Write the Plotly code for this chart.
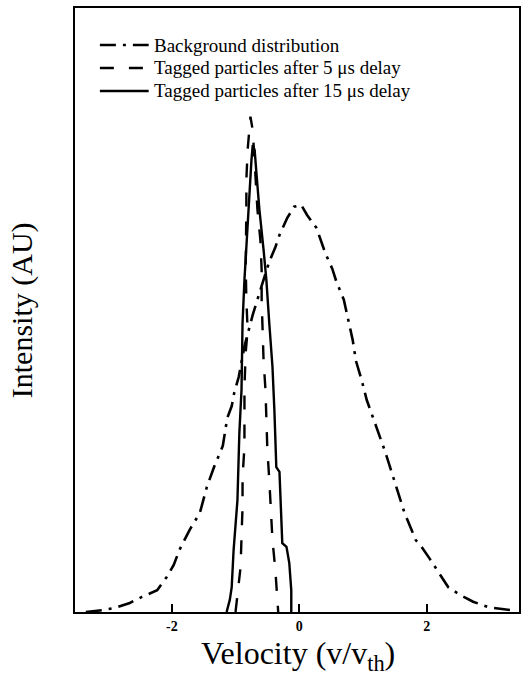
import plotly.graph_objects as go

# Background distribution (dash-dot)
bg_x = [-3.35, -3.09, -2.89, -2.66, -2.47, -2.23, -2.08, -1.97, -1.88, -1.72, -1.56, -1.45,
        -1.33, -1.20, -1.13, -1.06, -1.02, -0.95, -0.86, -0.73, -0.59, -0.47, -0.375,
        -0.31, -0.19, -0.08, 0.03, 0.125, 0.27, 0.34, 0.41, 0.52, 0.58, 0.70, 0.77,
        0.84, 0.89, 0.98, 1.06, 1.20, 1.35, 1.50, 1.65, 1.83, 1.92, 2.05, 2.19, 2.34,
        2.53, 2.73, 2.97, 3.17, 3.40]
bg_y = [0.0, 0.003, 0.007, 0.015, 0.025, 0.036, 0.058, 0.078, 0.103, 0.136, 0.164, 0.207,
        0.242, 0.275, 0.321, 0.341, 0.363, 0.389, 0.44, 0.492, 0.540, 0.58, 0.604,
        0.624, 0.652, 0.671, 0.674, 0.657, 0.636, 0.614, 0.594, 0.568, 0.548, 0.517, 0.482,
        0.450, 0.416, 0.384, 0.351, 0.31, 0.265, 0.215, 0.165, 0.119, 0.108, 0.088, 0.066, 0.041,
        0.028, 0.017, 0.008, 0.005, 0.002]

# Tagged particles after 5 us delay (dashed)
d5_x = [-1.0, -0.97, -0.92, -0.906, -0.89, -0.89, -0.86, -0.86, -0.86, -0.84, -0.81, -0.83,
        -0.84, -0.83, -0.83, -0.81, -0.78, -0.766, -0.73, -0.70, -0.67, -0.656, -0.61,
        -0.59, -0.59, -0.58, -0.56, -0.53, -0.52, -0.50, -0.47, -0.44, -0.42, -0.375,
        -0.34, -0.33]
d5_y = [0.0, 0.028, 0.075, 0.124, 0.174, 0.224, 0.273, 0.323, 0.373, 0.43, 0.467, 0.517,
        0.571, 0.669, 0.715, 0.765, 0.806, 0.82, 0.798, 0.748, 0.70, 0.666, 0.616,
        0.566, 0.517, 0.467, 0.417, 0.368, 0.321, 0.268, 0.219, 0.169, 0.119, 0.07,
        0.026, 0.0]

# Tagged particles after 15 us delay (solid)
d15_x = [-1.14, -1.09, -1.06, -1.03, -0.97, -0.94, -0.906, -0.89, -0.86, -0.81, -0.78,
         -0.75, -0.73, -0.70, -0.67, -0.625, -0.56, -0.516, -0.47, -0.42, -0.39, -0.36,
         -0.31, -0.28, -0.266, -0.20, -0.156, -0.125, -0.125]
d15_y = [0.0, 0.02, 0.041, 0.103, 0.185, 0.296, 0.368, 0.478, 0.55, 0.649, 0.704,
         0.748, 0.773, 0.765, 0.724, 0.666, 0.60, 0.55, 0.478, 0.406, 0.334, 0.24,
         0.232, 0.157, 0.114, 0.108, 0.081, 0.036, 0.0]

x_ticks = [-2, 0, 2]
x_tick_labels = ["-2", "0", "2"]
legend_labels = ["Background distribution",
                 "Tagged particles after 5 \u03bcs delay",
                 "Tagged particles after 15 \u03bcs delay"]
x_title = "Velocity (v/v<sub>th</sub>)"
y_title = "Intensity (AU)"

SERIF = "Liberation Serif, Times New Roman, serif"
styles = [dict(dash="16px,7px,3px,7px", width=2.6),
          dict(dash="14px,15px", width=2.4),
          dict(dash="solid", width=2.4)]

fig = go.Figure()
for xs, ys, st, name in [(bg_x, bg_y, styles[0], legend_labels[0]),
                         (d5_x, d5_y, styles[1], legend_labels[1]),
                         (d15_x, d15_y, styles[2], legend_labels[2])]:
    fig.add_trace(go.Scatter(x=xs, y=ys, mode="lines", name=name, showlegend=False,
                             line=dict(color="black", width=st["width"], dash=st["dash"])))

# Custom legend (sample lines + text) in paper coordinates
W, H = 446, 604
rows_px = [45, 68, 91]
for lab, st, py in zip(legend_labels, styles, rows_px):
    yp = (612 - py) / H
    fig.add_shape(type="line", xref="paper", yref="paper",
                  x0=(100 - 75) / W, x1=(149 - 75) / W, y0=yp, y1=yp,
                  line=dict(color="black", width=st["width"], dash=st["dash"]))
    fig.add_annotation(xref="paper", yref="paper", x=(152 - 75) / W, y=yp,
                       text=lab, showarrow=False, xanchor="left", yanchor="middle",
                       font=dict(family=SERIF, size=19, color="black"))

# Axis titles
fig.add_annotation(xref="paper", yref="paper", x=(299 - 75) / W, y=(612 - 655) / H,
                   text=x_title, showarrow=False, xanchor="center", yanchor="middle",
                   font=dict(family=SERIF, size=32, color="black"))
fig.add_annotation(xref="paper", yref="paper", x=(22 - 75) / W, y=0.5,
                   text=y_title, showarrow=False, textangle=-90,
                   xanchor="center", yanchor="middle",
                   font=dict(family=SERIF, size=30, color="black"))

fig.update_layout(
    width=523, height=686,
    margin=dict(l=75, r=2, t=8, b=74),
    paper_bgcolor="white", plot_bgcolor="white",
    showlegend=False,
    font=dict(family=SERIF, color="black"),
)
fig.update_xaxes(range=[-3.52, 3.45], tickvals=x_ticks, ticktext=x_tick_labels,
                 ticks="inside", ticklen=8, tickwidth=2, tickcolor="black",
                 showline=True, linecolor="black", linewidth=2, mirror=True,
                 showgrid=False, zeroline=False,
                 tickfont=dict(family=SERIF, size=14, color="black", weight="bold"))
fig.update_yaxes(range=[0, 1.0], showticklabels=False, ticks="",
                 showline=True, linecolor="black", linewidth=2, mirror=True,
                 showgrid=False, zeroline=False)

fig.write_html("out.html")
